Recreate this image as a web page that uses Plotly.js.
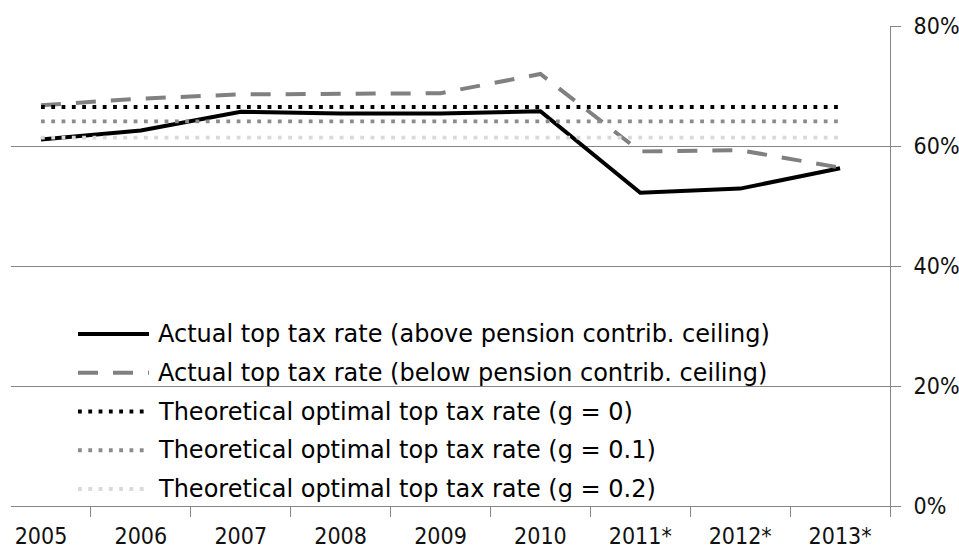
<!DOCTYPE html>
<html><head><meta charset="utf-8">
<script src="https://cdn.plot.ly/plotly-3.0.1.min.js"></script>
<style>html,body{margin:0;padding:0;background:#fff;}#chart{width:959px;height:552px;}</style>
</head><body><div id="chart"></div>
<script>
// ---- data ----
const years = ["2005","2006","2007","2008","2009","2010","2011*","2012*","2013*"];
const aboveCeiling = [61.1, 62.6, 65.7, 65.4, 65.4, 65.8, 52.2, 52.9, 56.3];
const belowCeiling = [66.8, 67.9, 68.6, 68.7, 68.8, 72.0, 59.1, 59.3, 56.4];
const optimalG0  = [66.5, 66.5, 66.5, 66.5, 66.5, 66.5, 66.5, 66.5, 66.5];
const optimalG01 = [64.1, 64.1, 64.1, 64.1, 64.1, 64.1, 64.1, 64.1, 64.1];
const optimalG02 = [61.4, 61.4, 61.4, 61.4, 61.4, 61.4, 61.4, 61.4, 61.4];
const seriesNames = [
  "Actual top tax rate (above pension contrib. ceiling)",
  "Actual top tax rate (below pension contrib. ceiling)",
  "Theoretical optimal top tax rate (g = 0)",
  "Theoretical optimal top tax rate (g = 0.1)",
  "Theoretical optimal top tax rate (g = 0.2)"
];
const yTickVals = [0, 20, 40, 60, 80];
const yTickLabels = ["0%", "20%", "40%", "60%", "80%"];

// ---- styles ----
const seriesValues = [aboveCeiling, belowCeiling, optimalG0, optimalG01, optimalG02];
const lineStyles = [
  {color: "#000000", width: 4, dash: "solid"},
  {color: "#808080", width: 4, dash: "20px,15px"},
  {color: "#000000", width: 3.8, dash: "3.8px,6.5px"},
  {color: "#8c8c8c", width: 3.8, dash: "3.8px,6.5px"},
  {color: "#d9d9d9", width: 3.8, dash: "3.8px,6.5px"}
];

const W = 959, H = 552, L = 11, R = 69, T = 26, B = 46;
const plotW = W - L - R, plotH = H - T - B;
const px2x = p => (p - L) / plotW;
const px2y = p => (H - B - p) / plotH;

const traces = seriesValues.map((vals, i) => ({
  type: "scatter", mode: "lines",
  x: years, y: vals, name: seriesNames[i],
  line: lineStyles[i], showlegend: false, hoverinfo: "skip"
}));

// custom legend (long line samples like the original)
const shapes = [], annotations = [];
const rowStart = 334, rowStep = 38.75;
seriesNames.forEach((nm, i) => {
  const yy = px2y(rowStart + i * rowStep);
  shapes.push({type: "line", xref: "paper", yref: "paper",
    x0: px2x(78), x1: px2x(149), y0: yy, y1: yy,
    line: lineStyles[i]});
  annotations.push({xref: "paper", yref: "paper", x: px2x(156), y: yy,
    xanchor: "left", yanchor: "middle", showarrow: false, text: nm,
    font: {family: "DejaVu Sans", size: 24, color: "#000"}});
});

const tickFont = {family: "DejaVu Sans Condensed, DejaVu Sans", size: 23, color: "#111"};

const layout = {
  width: W, height: H,
  margin: {l: L, r: R, t: T, b: B, pad: 0},
  paper_bgcolor: "#fff", plot_bgcolor: "#fff",
  showlegend: false,
  font: tickFont,
  xaxis: {
    type: "category", range: [-0.3, 8.5],
    tickson: "boundaries", ticks: "outside", ticklen: 10, tickcolor: "#868686", tickwidth: 1,
    showline: true, linecolor: "#868686", linewidth: 1,
    showgrid: false, zeroline: false, fixedrange: true,
    ticklabelstandoff: 9,
    tickfont: tickFont
  },
  yaxis: {
    side: "right", range: [0, 80], tickmode: "array",
    tickvals: yTickVals, ticktext: yTickLabels,
    ticks: "outside", ticklen: 10, tickcolor: "#868686", tickwidth: 1,
    showline: true, linecolor: "#868686", linewidth: 1,
    showgrid: true, gridcolor: "#868686", gridwidth: 1,
    zeroline: false, fixedrange: true,
    ticklabelstandoff: 8,
    tickfont: tickFont
  },
  shapes: shapes,
  annotations: annotations
};

Plotly.newPlot("chart", traces, layout, {staticPlot: true, displayModeBar: false});
</script>
</body></html>
